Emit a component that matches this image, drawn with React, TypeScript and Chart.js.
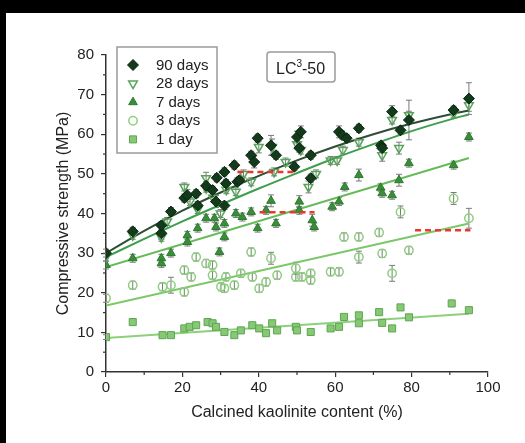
import React, { useEffect, useRef } from 'react';
import { Chart, registerables } from 'chart.js';
Chart.register(...registerables);

// ---- data ----
const xTicks = [0, 20, 40, 60, 80, 100];
const yTicks = [0, 10, 20, 30, 40, 50, 60, 70, 80];
const seriesLabels = ['90 days', '28 days', '7 days', '3 days', '1 day'];

const d90X = [0, 7, 14.5, 14.5, 17, 20.5, 21.3, 23.6, 24, 26.2, 27.9, 28.8, 29, 31, 31, 31.4, 33.6, 34.4, 34.9, 38, 38.8, 39.7, 43.2, 44.5, 49.3, 50, 50.6, 51, 53.6, 53.6, 61, 61.8, 63, 66.2, 72, 72.3, 74.9, 77.1, 79.3, 91, 95];
const d90Y = [30, 35.5, 35, 37, 40.5, 43.9, 44.6, 45, 42, 47, 45.9, 43, 49, 42, 50.5, 47.6, 52.2, 48, 48.4, 54.7, 53, 59, 57.2, 54.7, 51.8, 59.3, 56.5, 60.6, 54.7, 48.9, 60.6, 59.8, 59, 61.5, 57.2, 56.5, 65.7, 61, 63.6, 66.1, 69];
const d90E = [1, 1, 1.5, 1, 1, 1, 1.5, 1, 1, 1, 1, 1.5, 1, 1, 1, 1, 1, 1, 1, 1, 1.5, 1, 2.5, 1, 1, 1.5, 1, 1.5, 1, 1, 1.5, 1, 1, 1, 1, 1, 1.5, 1, 5, 1, 4];

const d28X = [0, 7, 14.5, 16, 20.5, 22, 24, 26.2, 26.2, 28, 30, 31.5, 34, 36, 38, 40, 43.5, 44, 47, 50, 51, 53, 55, 58.8, 60.5, 62, 66.2, 72.3, 74.9, 76.7, 79.3, 91, 95];
const d28Y = [29, 34.5, 34, 38, 46.7, 43, 41, 48.9, 46.4, 44, 40, 46, 45.5, 50, 48, 56.8, 56.8, 50.5, 53, 57.5, 56, 46.7, 50, 53.4, 53.4, 56, 58, 54.7, 63.6, 56.5, 64.8, 65.3, 67.3];
const d28E = [1, 1, 1, 1, 1, 1, 1, 1.5, 1, 1, 1, 1, 1, 1, 1, 1.5, 2, 1, 1, 1, 1, 1.5, 1, 1, 1, 1, 1, 1.5, 1, 1.5, 1, 1, 1.5];

const d7X = [0, 7, 14.5, 14.5, 17, 21.3, 21.3, 24, 26.2, 28.4, 28.8, 29.7, 31, 31, 34, 35.7, 38, 39.7, 41.9, 43.2, 44.5, 50.6, 50.6, 54, 54.5, 59.2, 61, 62.5, 66.2, 71.9, 72.3, 74.9, 76.7, 79.3, 91, 95];
const d7Y = [27, 28.7, 28.7, 27.4, 30, 34.5, 32.8, 36.3, 38.8, 38.8, 36.6, 30.3, 34.1, 37.5, 40, 39.1, 40.4, 36.3, 40.8, 43.2, 37.5, 43, 40.8, 38.3, 36.6, 41.7, 43, 46.7, 49.7, 46.5, 45.1, 44.6, 48.4, 52.7, 52.2, 59.3];
const d7E = [1, 1, 1, 1, 1, 1, 1, 1, 1, 1, 1, 1, 1, 1, 1, 1, 1, 1, 1, 1.5, 1, 1.5, 1, 1.5, 1, 1, 1, 1, 1.5, 1, 1, 1, 1.5, 1, 1, 1];

const d3X = [0, 7, 14.8, 17, 20.5, 20.5, 22.3, 23.6, 26.2, 27.9, 27.9, 30.1, 31, 31.4, 33.6, 35.3, 38, 38.3, 40.1, 41.9, 43.2, 44.8, 49.7, 49.7, 51.3, 53.6, 53.6, 58.8, 61, 62.3, 66.2, 66.2, 71.5, 72.3, 74.9, 77.1, 79.3, 91, 95];
const d3Y = [18.6, 21.9, 21.5, 21.9, 20.2, 25.7, 24, 29, 27.4, 27, 24.4, 21.5, 21.1, 24, 21.9, 24.9, 30.3, 24, 21.1, 22.7, 28.7, 24.4, 26.2, 24, 24, 24.9, 23.2, 25.3, 25.3, 34.1, 34.1, 29, 35.2, 29.9, 24.9, 40.4, 30.7, 43.8, 38.8];
const d3E = [1, 1, 1, 2, 1, 1, 1, 1, 1, 1, 1, 1, 1, 1, 1, 1, 1, 1, 1, 1, 1.5, 1, 1.5, 1, 1, 1, 1, 1, 1, 1, 1, 1.5, 1, 1, 2, 1.5, 1, 1.5, 2.5];

const d1X = [0, 7, 14.8, 17, 20.5, 21.9, 23.6, 26.6, 27.9, 28.8, 31, 33.6, 35.3, 38.3, 40.1, 41.9, 43.5, 44.8, 49.7, 50, 53.6, 58.8, 61, 62.3, 66.2, 66.2, 71.5, 72.3, 74.9, 77.1, 79.3, 90.5, 95];
const d1Y = [8.8, 12.6, 9.3, 9.3, 11, 11.4, 11.8, 12.6, 12.3, 11.4, 10.1, 9.3, 10.5, 11.8, 11, 9.8, 12.3, 10.5, 11.4, 10.5, 10.1, 11, 11.4, 13.9, 14.3, 12.3, 15.1, 12.4, 11, 16.3, 13.8, 17.3, 15.6];
const d1E = [0.6, 0.6, 0.6, 0.6, 0.6, 0.6, 0.6, 0.6, 0.6, 0.6, 0.6, 0.6, 0.6, 0.6, 0.6, 0.6, 0.6, 0.6, 0.6, 0.6, 0.6, 0.6, 0.6, 0.6, 0.6, 0.6, 0.6, 0.6, 0.6, 0.6, 0.6, 0.8, 0.6];

// fitted curves (read at these x positions)
const fitCurveX = [0, 10, 20, 30, 40, 50, 60, 70, 80, 90, 95];
const fit90Y = [30, 35.6, 40.7, 45.3, 49.5, 53.4, 56.9, 60, 62.7, 65, 66];
const fit28Y = [29, 33.6, 38, 42.2, 46.3, 50.2, 54, 57.5, 60.8, 63.7, 65];
const fitLineX = [0, 95];
const fit7Y = [26.5, 54];
const fit3Y = [16.8, 37.5];
const fit1Y = [8.6, 14.7];

// red dashed reference segments
const red1X = [34.4, 50.1]; const red1Y = [50.5, 50.5];
const red2X = [40.2, 54.6]; const red2Y = [40.3, 40.3];
const red3X = [80.9, 95.4]; const red3Y = [35.8, 35.8];

const xMinor = [10, 30, 50, 70, 90];
const yMinor = [5, 15, 25, 35, 45, 55, 65, 75];

// ---- styles ----
const FONT = '"Liberation Sans", Arial, sans-serif';
const styles = [
  { style: 'rectRot', r: 5.5, fill: '#123a1b', stroke: '#0a2610', lw: 1, rot: 0 },
  { style: 'triangle', r: 5, fill: 'rgba(255,255,255,0)', stroke: '#55a457', lw: 1.5, rot: 180 },
  { style: 'triangle', r: 5, fill: '#3b8c3b', stroke: '#2a7a2d', lw: 1, rot: 0 },
  { style: 'circle', r: 4.2, fill: 'rgba(255,255,255,0)', stroke: '#8dd07e', lw: 1.5, rot: 0 },
  { style: 'rect', r: 5, fill: '#86c874', stroke: '#5ea653', lw: 1, rot: 0 },
];

const pts = (xs: number[], ys: number[]) => xs.map((x, i) => ({ x, y: ys[i] }));

function drawMarker(ctx: CanvasRenderingContext2D, s: any, x: number, y: number) {
  ctx.save();
  ctx.fillStyle = s.fill; ctx.strokeStyle = s.stroke; ctx.lineWidth = s.lw;
  ctx.beginPath();
  const r = s.r;
  if (s.style === 'rectRot') {
    ctx.moveTo(x, y - r); ctx.lineTo(x + r, y); ctx.lineTo(x, y + r); ctx.lineTo(x - r, y); ctx.closePath();
  } else if (s.style === 'triangle') {
    const dir = s.rot === 180 ? -1 : 1;
    const w = r * 0.866;
    ctx.moveTo(x, y - dir * r); ctx.lineTo(x + w, y + dir * r * 0.5); ctx.lineTo(x - w, y + dir * r * 0.5); ctx.closePath();
  } else if (s.style === 'circle') {
    ctx.arc(x, y, r, 0, Math.PI * 2);
  } else {
    const h = r * Math.SQRT1_2; ctx.rect(x - h, y - h, 2 * h, 2 * h);
  }
  ctx.fill(); ctx.stroke();
  ctx.restore();
}

const errorBars = {
  id: 'errorBars',
  beforeDatasetsDraw(chart: any) {
    const { ctx } = chart; const ys = chart.scales.y;
    chart.data.datasets.forEach((ds: any, i: number) => {
      if (!ds.errs) return;
      const meta = chart.getDatasetMeta(i);
      ctx.save(); ctx.strokeStyle = '#7a7a7a'; ctx.lineWidth = 1;
      meta.data.forEach((p: any, j: number) => {
        const e = ds.errs[j]; const v = ds.data[j].y;
        const t = ys.getPixelForValue(v + e), b = ys.getPixelForValue(v - e);
        ctx.beginPath();
        ctx.moveTo(p.x, t); ctx.lineTo(p.x, b);
        ctx.moveTo(p.x - 3, t); ctx.lineTo(p.x + 3, t);
        ctx.moveTo(p.x - 3, b); ctx.lineTo(p.x + 3, b);
        ctx.stroke();
      });
      ctx.restore();
    });
  },
};

const decorations = {
  id: 'decorations',
  afterDraw(chart: any) {
    const { ctx } = chart; const xs = chart.scales.x, ys = chart.scales.y;
    const area = chart.chartArea;
    ctx.save();
    ctx.strokeStyle = '#333'; ctx.lineWidth = 1.2;
    xMinor.forEach(v => { const px = xs.getPixelForValue(v); ctx.beginPath(); ctx.moveTo(px, area.bottom); ctx.lineTo(px, area.bottom + 3); ctx.stroke(); });
    yMinor.forEach(v => { const py = ys.getPixelForValue(v); ctx.beginPath(); ctx.moveTo(area.left - 3, py); ctx.lineTo(area.left, py); ctx.stroke(); });

    // legend box
    ctx.strokeStyle = '#9a9a9a'; ctx.lineWidth = 1.5;
    ctx.strokeRect(117, 47, 100, 106);
    ctx.font = `15px ${FONT}`; ctx.fillStyle = '#222'; ctx.textBaseline = 'middle'; ctx.textAlign = 'left';
    seriesLabels.forEach((lab, i) => {
      const y = 65 + i * 18.6;
      drawMarker(ctx, styles[i], 133, y);
      ctx.fillStyle = '#222';
      ctx.fillText(lab, 156, y + 0.5);
    });

    // LC3-50 box
    ctx.strokeStyle = '#9a9a9a'; ctx.lineWidth = 1.5;
    ctx.beginPath();
    const bx = 267, by = 52, bw = 68, bh = 30, rr = 3;
    ctx.moveTo(bx + rr, by); ctx.arcTo(bx + bw, by, bx + bw, by + bh, rr); ctx.arcTo(bx + bw, by + bh, bx, by + bh, rr);
    ctx.arcTo(bx, by + bh, bx, by, rr); ctx.arcTo(bx, by, bx + bw, by, rr); ctx.closePath(); ctx.stroke();
    ctx.fillStyle = '#222'; ctx.textBaseline = 'alphabetic';
    ctx.font = `16px ${FONT}`;
    let tx = 276; const base = 74;
    ctx.fillText('LC', tx, base); tx += ctx.measureText('LC').width;
    ctx.font = `10px ${FONT}`; ctx.fillText('3', tx, base - 7); tx += ctx.measureText('3').width;
    ctx.font = `16px ${FONT}`; ctx.fillText('-50', tx, base);
    ctx.restore();
  },
};

export default function App() {
  const ref = useRef<HTMLCanvasElement>(null);
  useEffect(() => {
    const mk = (i: number, xs: number[], ys: number[], es: number[]) => ({
      label: seriesLabels[i], data: pts(xs, ys), errs: es, showLine: false, order: i + 1,
      pointStyle: styles[i].style, pointRadius: styles[i].r, pointRotation: styles[i].rot,
      pointBackgroundColor: styles[i].fill, pointBorderColor: styles[i].stroke, pointBorderWidth: styles[i].lw,
      pointHoverRadius: styles[i].r,
    });
    const line = (xs: number[], ys: number[], color: string, order: number, extra: any = {}) => ({
      data: pts(xs, ys), showLine: true, pointRadius: 0, pointHoverRadius: 0, borderColor: color, borderWidth: 2, order, fill: false, ...extra,
    });
    const chart = new Chart(ref.current as HTMLCanvasElement, {
      type: 'scatter',
      data: {
        datasets: [
          line(red1X, red1Y, '#e8392b', 0, { borderDash: [6, 4], borderWidth: 2.5 }),
          line(red2X, red2Y, '#e8392b', 0, { borderDash: [6, 4], borderWidth: 2.5 }),
          line(red3X, red3Y, '#e8392b', 0, { borderDash: [6, 4], borderWidth: 2.5 }),
          mk(0, d90X, d90Y, d90E),
          mk(1, d28X, d28Y, d28E),
          mk(2, d7X, d7Y, d7E),
          mk(3, d3X, d3Y, d3E),
          mk(4, d1X, d1Y, d1E),
          line(fitCurveX, fit90Y, '#2f4d35', 10, { cubicInterpolationMode: 'monotone' }),
          line(fitCurveX, fit28Y, '#3f9e4e', 11, { cubicInterpolationMode: 'monotone' }),
          line(fitLineX, fit7Y, '#66bb58', 12),
          line(fitLineX, fit3Y, '#7cc76a', 13),
          line(fitLineX, fit1Y, '#8cd07b', 14),
        ] as any,
      },
      options: {
        animation: false, responsive: false, devicePixelRatio: 1,
        layout: { padding: { left: 0, top: 55, right: 37, bottom: 0 } },
        plugins: { legend: { display: false }, tooltip: { enabled: false } },
        scales: {
          x: {
            type: 'linear', min: 0, max: 100,
            afterBuildTicks: (s: any) => { s.ticks = xTicks.map(v => ({ value: v })); },
            afterFit: (s: any) => { s.height = 71; },
            grid: { drawOnChartArea: false, drawTicks: true, tickLength: 5, color: '#333', lineWidth: 1.2 },
            border: { display: true, color: '#333', width: 1.5 },
            ticks: { color: '#222', font: { family: FONT, size: 15 }, padding: 2, maxRotation: 0 },
            title: { display: true, text: 'Calcined kaolinite content (%)', color: '#222', font: { family: FONT, size: 16 }, padding: { top: 0, bottom: 21 } },
          },
          y: {
            type: 'linear', min: 0, max: 80,
            afterBuildTicks: (s: any) => { s.ticks = yTicks.map(v => ({ value: v })); },
            afterFit: (s: any) => { s.width = 106; },
            grid: { drawOnChartArea: false, drawTicks: true, tickLength: 5, color: '#333', lineWidth: 1.2 },
            border: { display: true, color: '#333', width: 1.5 },
            ticks: { color: '#222', font: { family: FONT, size: 15 }, padding: 7 },
            title: { display: true, text: 'Compressive strength (MPa)', color: '#222', font: { family: FONT, size: 16 }, padding: { top: 54, bottom: 0 } },
          },
        },
      },
      plugins: [errorBars, decorations],
    } as any);
    return () => chart.destroy();
  }, []);

  return (
    <div style={{ position: 'fixed', left: 0, top: 0, width: 525, height: 443, background: '#fff', overflow: 'hidden' }}>
      <div style={{ position: 'absolute', left: 0, top: 0, width: 525, height: 13, background: '#000' }} />
      <div style={{ position: 'absolute', left: 0, top: 0, width: 6, height: 443, background: '#000' }} />
      <canvas ref={ref} width={525} height={443} style={{ position: 'absolute', left: 0, top: 0, width: 525, height: 443 }} />
    </div>
  );
}
